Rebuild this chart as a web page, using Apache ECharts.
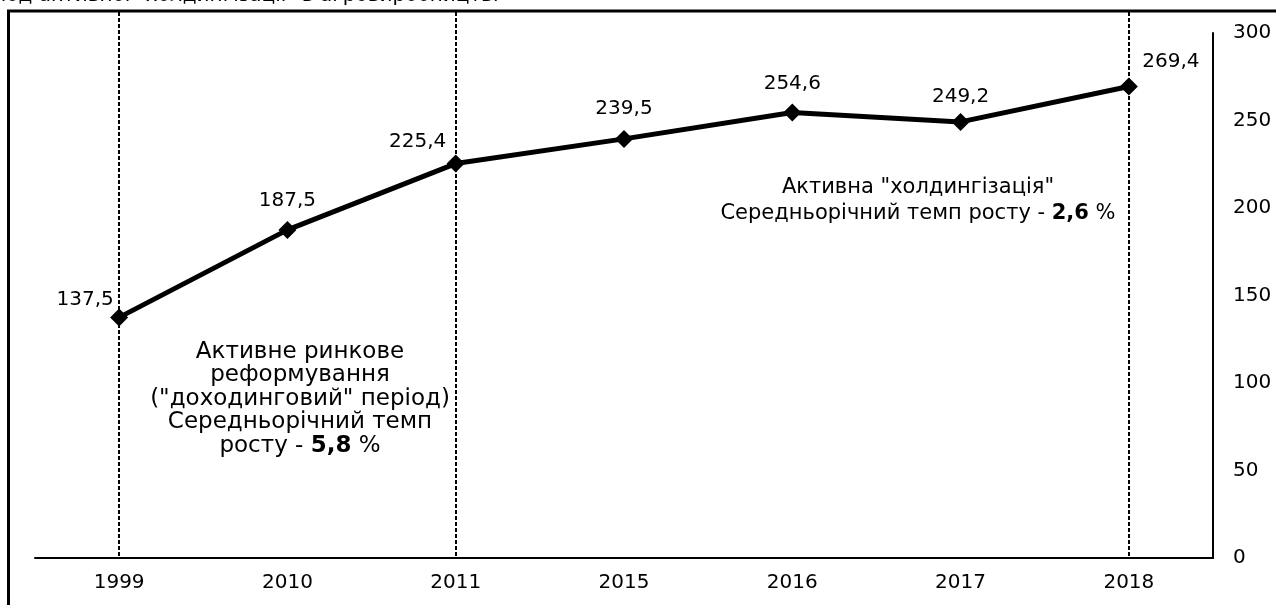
<!DOCTYPE html>
<html>
<head>
<meta charset="utf-8">
<script src="https://cdn.jsdelivr.net/npm/echarts@6/dist/echarts.min.js"></script>
<style>
html,body{margin:0;padding:0;background:#fff;}
#chart{width:1276px;height:605px;}
</style>
</head>
<body>
<div id="chart"></div>
<script>
const years = ['1999', '2010', '2011', '2015', '2016', '2017', '2018'];
const values = [137.5, 187.5, 225.4, 239.5, 254.6, 249.2, 269.4];
const labelOffsets = [[-34, 5], [0, -6], [-38, 1], [0, -7], [0, -6], [0, -2], [42, -2]];
const dashedYears = ['1999', '2011', '2018'];
const yTicks = { min: 0, max: 300, interval: 50 };
const topCaption = 'ріод активної "холдингізації" в агровиробництві';
const leftNote = ['Активне ринкове', 'реформування', '("доходинговий" період)', 'Середньорічний темп'];
const leftRate = ['росту - ', '5,8', ' %'];
const rightNote = ['Активна "холдингізація"'];
const rightRate = ['Середньорічний темп росту - ', '2,6', ' %'];

const FONT = 'DejaVu Sans';
const TXT = '#000';
const chart = echarts.init(document.getElementById('chart'));

const option = {
  animation: false,
  backgroundColor: '#fff',
  grid: { left: 35, right: 63, top: 33, bottom: 47 },
  xAxis: {
    type: 'category',
    data: years,
    boundaryGap: true,
    axisLine: { lineStyle: { color: '#000', width: 2 } },
    axisTick: { show: false },
    axisLabel: { color: TXT, fontFamily: FONT, fontSize: 20, margin: 15 },
    splitLine: { show: false }
  },
  yAxis: {
    type: 'value',
    position: 'right',
    min: yTicks.min, max: yTicks.max, interval: yTicks.interval,
    axisLine: { show: true, lineStyle: { color: '#000', width: 2 } },
    axisTick: { show: false },
    splitLine: { show: false },
    axisLabel: { color: TXT, fontFamily: FONT, fontSize: 20, margin: 20, align: 'left' }
  },
  series: [{
    type: 'line',
    data: values.map((v, i) => ({
      value: v,
      label: { offset: labelOffsets[i] }
    })),
    symbol: 'diamond',
    symbolSize: 18,
    lineStyle: { color: '#000', width: 5 },
    itemStyle: { color: '#000' },
    label: {
      show: true,
      position: 'top',
      distance: 4,
      color: TXT,
      fontFamily: FONT,
      fontSize: 20,
      formatter: p => String(p.value).replace('.', ',')
    },
    z: 5
  }]
};
chart.setOption(option);

function buildGraphics() {
  const g = [];
  const yBottom = chart.convertToPixel({ yAxisIndex: 0 }, 0);
  dashedYears.forEach(y => {
    const x = Math.round(chart.convertToPixel({ xAxisIndex: 0 }, y));
    g.push({
      type: 'line', z: 1,
      shape: { x1: x, y1: 12, x2: x, y2: yBottom },
      style: { stroke: '#000', lineWidth: 2, lineDash: [4, 2] }
    });
  });
  g.push({
    type: 'rect', z: 0,
    shape: { x: 8.5, y: 11, width: 1400, height: 800 },
    style: { fill: 'none', stroke: '#000', lineWidth: 3 }
  });
  g.push({
    type: 'text', z: 2,
    style: { x: -12, y: -14, text: topCaption, fontFamily: FONT, fontSize: 20, fill: TXT, textBaseline: 'top' }
  });
  const lfs = 23, rfs = 21;
  const lbase = { fontFamily: FONT, fontSize: lfs, fill: TXT };
  const rbase = { fontFamily: FONT, fontSize: rfs, fill: TXT };
  const lx = 300;
  leftNote.forEach((t, i) => {
    g.push({ type: 'text', z: 3, style: Object.assign({ x: lx, y: 352 + i * 23.5, text: t, textAlign: 'center', textVerticalAlign: 'middle' }, lbase) });
  });
  g.push({
    type: 'text', z: 3,
    style: Object.assign({
      x: lx, y: 352 + 4 * 23.5, textAlign: 'center', textVerticalAlign: 'middle',
      text: '{n|' + leftRate[0] + '}{b|' + leftRate[1] + '}{n|' + leftRate[2] + '}',
      rich: { n: { fontFamily: FONT, fontSize: lfs, fill: TXT }, b: { fontFamily: FONT, fontSize: lfs, fontWeight: 'bold', fill: TXT } }
    }, lbase)
  });
  const rx = 918;
  g.push({ type: 'text', z: 3, style: Object.assign({ x: rx, y: 188, text: rightNote[0], textAlign: 'center', textVerticalAlign: 'middle' }, rbase) });
  g.push({
    type: 'text', z: 3,
    style: Object.assign({
      x: rx, y: 214, textAlign: 'center', textVerticalAlign: 'middle',
      text: '{n|' + rightRate[0] + '}{b|' + rightRate[1] + '}{n|' + rightRate[2] + '}',
      rich: { n: { fontFamily: FONT, fontSize: rfs, fill: TXT }, b: { fontFamily: FONT, fontSize: rfs, fontWeight: 'bold', fill: TXT } }
    }, rbase)
  });
  chart.setOption({ graphic: g });
}
buildGraphics();
</script>
</body>
</html>
